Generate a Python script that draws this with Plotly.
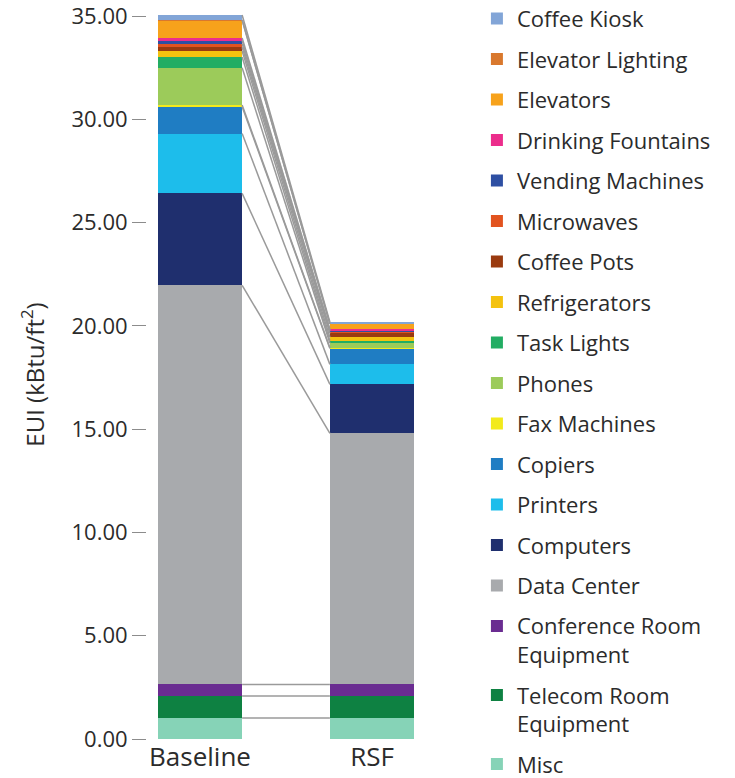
import numpy as np
import plotly.graph_objects as go

# End uses, stacked bottom -> top
end_uses = [
    "Misc",
    "Telecom Room<br>Equipment",
    "Conference Room<br>Equipment",
    "Data Center",
    "Computers",
    "Printers",
    "Copiers",
    "Fax Machines",
    "Phones",
    "Task Lights",
    "Refrigerators",
    "Coffee Pots",
    "Microwaves",
    "Vending Machines",
    "Drinking Fountains",
    "Elevators",
    "Elevator Lighting",
    "Coffee Kiosk",
]

# EUI by end use (kBtu/ft2)
baseline_eui = [1.02, 1.06, 0.56, 19.33, 4.45, 2.90, 1.30, 0.08, 1.80, 0.52,
                0.29, 0.19, 0.16, 0.16, 0.13, 0.85, 0.03, 0.23]
rsf_eui = [1.02, 1.06, 0.56, 12.16, 2.37, 0.97, 0.77, 0.03, 0.22, 0.13,
           0.16, 0.19, 0.10, 0.06, 0.06, 0.24, 0.01, 0.08]

colors = [
    "#86D3B7",  # Misc
    "#0E8142",  # Telecom
    "#6A2C91",  # Conference
    "#A8AAAD",  # Data Center
    "#1F2F6E",  # Computers
    "#1DBDEB",  # Printers
    "#1F7DC3",  # Copiers
    "#F2EA1B",  # Fax
    "#9CCB5A",  # Phones
    "#22AD63",  # Task Lights
    "#F4C20F",  # Refrigerators
    "#9A3A0F",  # Coffee Pots
    "#E2531F",  # Microwaves
    "#2E4FA3",  # Vending
    "#EC2D8C",  # Drinking Fountains
    "#F7A21B",  # Elevators
    "#D9782D",  # Elevator Lighting
    "#82A5D7",  # Coffee Kiosk
]

scenarios = ["Baseline", "RSF"]
x_pos = [0, 1]
bar_w = 0.49

fig = go.Figure()

n = len(end_uses)
for i, name in enumerate(end_uses):
    fig.add_trace(go.Bar(
        x=x_pos,
        y=[baseline_eui[i], rsf_eui[i]],
        name=name,
        legendgroup=f"g{i}",
        legendrank=n - i,  # top segment listed first
        marker=dict(color=colors[i], line=dict(width=0)),
        width=bar_w,
    ))

# Connector lines between segment tops
cum_base = np.cumsum(baseline_eui)
cum_rsf = np.cumsum(rsf_eui)
for i in range(n):
    fig.add_trace(go.Scatter(
        x=[x_pos[0] + bar_w / 2, x_pos[1] - bar_w / 2],
        y=[cum_base[i], cum_rsf[i]],
        mode="lines",
        line=dict(color="#9A9A9A", width=1.5),
        showlegend=False,
        hoverinfo="skip",
    ))

font_family = "Open Sans"
text_color = "#2B2B2B"

fig.update_layout(
    width=735,
    height=778,
    barmode="stack",
    paper_bgcolor="white",
    plot_bgcolor="white",
    margin=dict(l=147, r=295, t=9.5, b=39, autoexpand=False),
    font=dict(family=font_family, color=text_color),
    showlegend=True,
    legend=dict(
        x=1.126,
        xanchor="left",
        y=1.017,
        yanchor="top",
        traceorder="grouped",
        tracegroupgap=8.9,
        valign="top",
        font=dict(size=22, family=font_family, color=text_color),
        bgcolor="rgba(0,0,0,0)",
        maxheight=1200,
    ),
    xaxis=dict(
        range=[-0.308, 1.395],
        tickvals=x_pos,
        ticktext=scenarios,
        tickfont=dict(size=26, color=text_color),
        showgrid=False,
        zeroline=False,
        showline=False,
        ticks="",
    ),
    yaxis=dict(
        range=[0, 35.3],
        dtick=5,
        tick0=0,
        tickformat=".2f",
        ticks="outside",
        ticklen=14,
        tickwidth=1,
        tickcolor="#8C8C8C",
        tickfont=dict(size=22, color=text_color),
        ticklabeloverflow="allow",
        showgrid=False,
        zeroline=False,
        showline=False,
        title=dict(
            text="EUI (kBtu/ft<sup>2</sup>)",
            font=dict(size=24, color=text_color),
            standoff=20,
        ),
    ),
)

fig.write_html("out.html")
